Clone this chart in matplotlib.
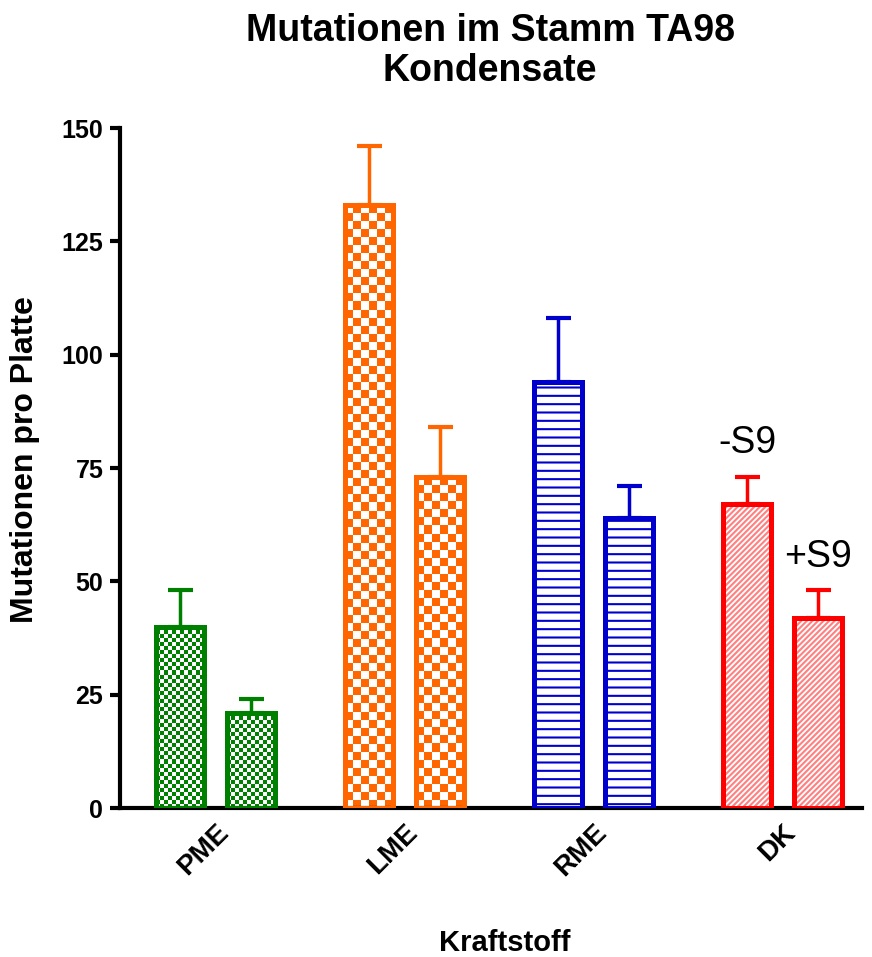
import numpy as np
import matplotlib
matplotlib.use("Agg")
import matplotlib.pyplot as plt
from matplotlib.colors import ListedColormap

plt.rcParams['font.family'] = ['Liberation Sans', 'DejaVu Sans']
plt.rcParams['hatch.linewidth'] = 1.5

categories = ["PME", "LME", "RME", "DK"]
minus_s9 = [40, 133, 94, 67]
minus_s9_err = [8, 13, 14, 6]
plus_s9 = [21, 73, 64, 42]
plus_s9_err = [3, 11, 7, 6]
colors = ["#008000", "#FF6600", "#0000CC", "#FF0000"]
title = "Mutationen im Stamm TA98\nKondensate"
ylabel = "Mutationen pro Platte"
xlabel = "Kraftstoff"
yticks = [0, 25, 50, 75, 100, 125, 150]

fig = plt.figure(figsize=(8.72, 9.57), dpi=100)
ax = fig.add_axes([120/872, 1-808/957, (862-120)/872, (808-128)/957])
ax.set_xlim(-0.508, 3.42)
ax.set_ylim(0, 150)

x = np.arange(len(categories))
off = 0.188
w = 0.254

styles = ["check_small", "check_big", "hlines", "diag"]

def checker(ax, patch, color, cell_px):
    x0, y0 = patch.get_x(), patch.get_y()
    wd, ht = patch.get_width(), patch.get_height()
    p0 = ax.transData.transform((x0, y0))
    p1 = ax.transData.transform((x0 + wd, y0 + ht))
    nx = max(1, int(round((p1[0] - p0[0]) / cell_px)))
    ny = max(1, int(round((p1[1] - p0[1]) / cell_px)))
    arr = (np.add.outer(np.arange(ny), np.arange(nx)) % 2)
    im = ax.imshow(arr, extent=(x0, x0 + wd, y0, y0 + ht), aspect='auto',
                   interpolation='nearest', cmap=ListedColormap(["white", color]),
                   zorder=2, origin='lower')
    im.set_clip_path(patch)

for i in range(len(categories)):
    c = colors[i]
    for xi, v, e in [(x[i] - off, minus_s9[i], minus_s9_err[i]),
                     (x[i] + off, plus_s9[i], plus_s9_err[i])]:
        st = styles[i]
        if st == "hlines":
            b = ax.bar(xi, v, width=w, facecolor='white', edgecolor=c, hatch='--',
                       linewidth=3.6, zorder=3)
        elif st == "diag":
            b = ax.bar(xi, v, width=w, facecolor='white', edgecolor=c, hatch='//////',
                       linewidth=3.6, zorder=3)
            b[0]._hatch_color = matplotlib.colors.to_rgba("#FF8080")
        else:
            b = ax.bar(xi, v, width=w, facecolor='none', edgecolor=c,
                       linewidth=3.6, zorder=3)
            checker(ax, b[0], c, 4 if st == "check_small" else 8)
        ax.errorbar(xi, v, yerr=[[0], [e]], color=c, elinewidth=2.5, capsize=9,
                    capthick=3, zorder=2.5, fmt='none')

ax.spines['top'].set_visible(False)
ax.spines['right'].set_visible(False)
ax.spines['left'].set_linewidth(3)
ax.spines['bottom'].set_linewidth(3)
ax.set_yticks(yticks)
ax.set_yticklabels([str(t) for t in yticks], fontsize=18, fontweight='bold')
ax.tick_params(axis='y', length=7, width=3, pad=5)
ax.set_xticks(x)
ax.set_xticklabels(categories, rotation=45, ha='right', rotation_mode='anchor',
                   fontsize=20, fontweight='bold')
ax.tick_params(axis='x', length=0, pad=8)

fig.text(25/872, 1-460/957, ylabel, rotation=90, ha='center', va='center',
         fontsize=23, fontweight='bold')
fig.text(505/872, 1-943/957, xlabel, ha='center', va='center',
         fontsize=21, fontweight='bold')
fig.text(490/872, 1-51/957, title, ha='center', va='center', fontsize=27,
         fontweight='bold', linespacing=1.15)

ax.text(3 - off, 80.5, "-S9", ha='center', va='center', fontsize=27)
ax.text(3 + off, 55.4, "+S9", ha='center', va='center', fontsize=27)

fig.savefig("out.png", dpi=100)
